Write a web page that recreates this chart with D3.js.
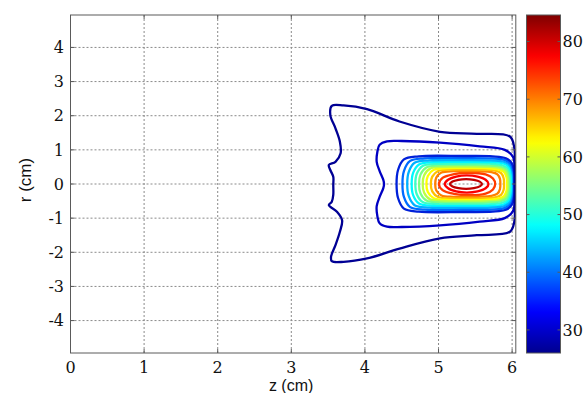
<!DOCTYPE html>
<html>
<head>
<meta charset="utf-8">
<script src="https://cdn.jsdelivr.net/npm/d3@7"></script>
<style>
  html, body { margin: 0; padding: 0; background: #fff; }
  svg { display: block; }
</style>
</head>
<body>
<svg id="chart" width="585" height="393"></svg>
<script>
// ---------------- data ----------------
const zTicks = [0, 1, 2, 3, 4, 5, 6];
const rTicks = [-4, -3, -2, -1, 0, 1, 2, 3, 4];
const colorTicks = [30, 40, 50, 60, 70, 80];
const colorRange = [26.0, 84.6];
const zDomain = [0, 6.05];
const rDomain = [-4.95, 4.95];

// contour levels (outermost first)
const levels = [28.0, 31.6, 35.5, 39.5, 43.5, 47.5, 51.3, 55.0, 58.8, 62.5, 66.2, 70.0, 73.8, 77.5, 81.0];

// outermost contour, full loop of [z, r] points
const contourOuter = [
  [6.035, 0], [6.035, 0.6], [6.03, 1.05], [5.97, 1.39], [5.52, 1.47], [5.02, 1.53],
  [4.47, 1.83], [4.03, 2.19], [3.71, 2.30], [3.55, 2.29], [3.53, 2.02], [3.60, 1.63],
  [3.66, 1.24], [3.67, 0.90], [3.60, 0.65], [3.51, 0.56], [3.53, 0.41], [3.57, 0.21],
  [3.57, -0.03], [3.57, -0.32], [3.55, -0.52], [3.51, -0.62], [3.62, -0.81], [3.69, -1.06],
  [3.66, -1.40], [3.60, -1.79], [3.54, -2.13], [3.55, -2.26], [3.71, -2.28], [4.03, -2.18],
  [4.47, -1.89], [5.02, -1.59], [5.52, -1.50], [5.97, -1.40], [6.03, -1.10], [6.035, -0.6]
];

// other contours: upper halves (right end at r=0 -> left end at r=0), mirrored about r=0
const contourUpper = [
  null,
  [[6.04,0],[6.04,0.4],[6.01,0.8],[5.9,1.0],[5.56,1.1],[5.02,1.21],[4.5,1.26],[4.3,1.25],[4.2,1.15],[4.17,0.95],[4.16,0.65],[4.2,0.38],[4.25,0.12],[4.26,0]],
  [[6.035,0],[6.03,0.33],[5.995,0.615],[5.915,0.755],[5.735,0.81],[5.33,0.82],[4.73,0.81],[4.53,0.72],[4.45,0.41],[4.43,0]],
  [[6.025,0],[6.02,0.3],[5.985,0.57],[5.905,0.7],[5.725,0.75],[5.33,0.76],[4.81,0.75],[4.61,0.67],[4.53,0.38],[4.51,0]],
  [[6.015,0],[6.01,0.28],[5.975,0.525],[5.895,0.645],[5.715,0.69],[5.33,0.70],[4.875,0.69],[4.675,0.62],[4.595,0.35],[4.575,0]],
  [[6.0,0],[5.995,0.26],[5.96,0.49],[5.88,0.6],[5.7,0.645],[5.33,0.65],[4.935,0.64],[4.735,0.57],[4.655,0.325],[4.635,0]],
  [[5.985,0],[5.98,0.24],[5.945,0.45],[5.865,0.55],[5.685,0.595],[5.33,0.60],[4.985,0.59],[4.785,0.53],[4.705,0.30],[4.685,0]],
  [[5.97,0],[5.965,0.22],[5.93,0.41],[5.85,0.505],[5.67,0.545],[5.33,0.55],[5.035,0.545],[4.835,0.485],[4.755,0.275],[4.735,0]],
  [[5.95,0],[5.945,0.2],[5.91,0.38],[5.83,0.47],[5.65,0.505],[5.33,0.51],[5.085,0.505],[4.885,0.45],[4.805,0.255],[4.785,0]],
  [[5.93,0],[5.925,0.19],[5.89,0.35],[5.81,0.43],[5.63,0.465],[5.33,0.47],[5.135,0.465],[4.935,0.415],[4.855,0.235],[4.835,0]],
  [[5.89,0],[5.885,0.17],[5.85,0.32],[5.77,0.395],[5.59,0.425],[5.33,0.43],[5.195,0.425],[4.995,0.38],[4.915,0.215],[4.895,0]],
  [[5.84,0],[5.835,0.15],[5.8,0.285],[5.72,0.35],[5.54,0.375],[5.33,0.38],[5.2,0.375],[5.04,0.335],[4.97,0.19],[4.955,0]],
  [[5.77,0],[5.74,0.16],[5.64,0.28],[5.42,0.33],[5.21,0.29],[5.055,0.18],[5.005,0]],
  [[5.68,0],[5.64,0.125],[5.53,0.215],[5.385,0.25],[5.24,0.215],[5.13,0.125],[5.085,0]],
  [[5.59,0],[5.56,0.07],[5.48,0.12],[5.375,0.14],[5.27,0.12],[5.19,0.07],[5.155,0]]
];

// jet colormap stops
const jetStops = [0, 0.125, 0.375, 0.625, 0.875, 1];
const jetColors = ["#00008f", "#0000ff", "#00ffff", "#ffff00", "#ff0000", "#800000"];

// ---------------- layout ----------------
const plot = { left: 70.5, right: 515.8, top: 15, bottom: 353 };
const cbar = { left: 526.5, right: 560.5 };
const SERIF = "DejaVu Serif";
const SANS = "Liberation Sans";

const svg = d3.select("#chart");
const x = d3.scaleLinear().domain(zDomain).range([plot.left, plot.right]);
const y = d3.scaleLinear().domain(rDomain).range([plot.bottom, plot.top]);
const cy = d3.scaleLinear().domain(colorRange).range([plot.bottom, plot.top]);
const jet = d3.scaleLinear()
  .domain(jetStops.map(t => colorRange[0] + t * (colorRange[1] - colorRange[0])))
  .range(jetColors).interpolate(d3.interpolateRgb).clamp(true);
function lineColor(v) {
  const c = d3.color(jet(v));
  return v < 38 ? c.darker(0.45).formatHex() : c.formatHex();
}

const gridColor = "#8a8a8a";
const axisColor = "#5a5a5a";

const defs = svg.append("defs");
defs.append("clipPath").attr("id", "plotclip")
  .append("rect").attr("x", plot.left).attr("y", plot.top)
  .attr("width", plot.right - plot.left).attr("height", plot.bottom - plot.top);

// grid
const grid = svg.append("g");
grid.selectAll("line.v").data(zTicks.filter(d => d > 0)).join("line")
  .attr("x1", d => x(d)).attr("x2", d => x(d))
  .attr("y1", plot.top).attr("y2", plot.bottom)
  .attr("stroke", gridColor).attr("stroke-width", 1).attr("stroke-dasharray", "2,2");
grid.selectAll("line.h").data(rTicks).join("line")
  .attr("x1", plot.left).attr("x2", plot.right)
  .attr("y1", d => y(d)).attr("y2", d => y(d))
  .attr("stroke", gridColor).attr("stroke-width", 1).attr("stroke-dasharray", "2,2");

// contours
const line = d3.line().x(d => x(d[0])).y(d => y(d[1])).curve(d3.curveCatmullRomClosed.alpha(0.5));
function fullLoop(upper) {
  const lower = upper.slice(1, -1).reverse().map(p => [p[0], -p[1]]);
  return upper.concat(lower);
}
const contourData = levels.map((lv, i) => ({
  level: lv,
  pts: i === 0 ? contourOuter : fullLoop(contourUpper[i])
}));
svg.append("g").attr("clip-path", "url(#plotclip)")
  .selectAll("path").data(contourData.slice().reverse()).join("path")
  .attr("d", d => line(d.pts))
  .attr("fill", "none")
  .attr("stroke", d => lineColor(d.level))
  .attr("stroke-width", 2.3)
  .attr("stroke-linejoin", "round");

// frame
svg.append("rect").attr("x", plot.left).attr("y", plot.top)
  .attr("width", plot.right - plot.left).attr("height", plot.bottom - plot.top)
  .attr("fill", "none").attr("stroke", axisColor).attr("stroke-width", 1);

// ticks (inward, all sides)
const tk = svg.append("g").attr("stroke", axisColor).attr("stroke-width", 1);
zTicks.forEach(d => {
  tk.append("line").attr("x1", x(d)).attr("x2", x(d)).attr("y1", plot.bottom).attr("y2", plot.bottom - 4);
  tk.append("line").attr("x1", x(d)).attr("x2", x(d)).attr("y1", plot.top).attr("y2", plot.top + 4);
});
rTicks.forEach(d => {
  tk.append("line").attr("x1", plot.left).attr("x2", plot.left + 4).attr("y1", y(d)).attr("y2", y(d));
  tk.append("line").attr("x1", plot.right).attr("x2", plot.right - 4).attr("y1", y(d)).attr("y2", y(d));
});

// tick labels
svg.append("g").selectAll("text").data(zTicks).join("text")
  .attr("x", d => x(d)).attr("y", 373)
  .attr("text-anchor", "middle")
  .attr("font-family", SERIF).attr("font-size", 16).attr("fill", "#111")
  .text(d => d);
svg.append("g").selectAll("text").data(rTicks).join("text")
  .attr("x", 64).attr("y", d => y(d))
  .attr("dy", "0.36em")
  .attr("text-anchor", "end")
  .attr("font-family", SERIF).attr("font-size", 16).attr("fill", "#111")
  .text(d => d);

// axis titles
svg.append("text")
  .attr("x", (plot.left + plot.right) / 2 - 2).attr("y", 391)
  .attr("text-anchor", "middle").attr("font-family", SANS).attr("font-size", 16).attr("fill", "#111")
  .text("z (cm)");
svg.append("text")
  .attr("transform", `translate(31,${(plot.top + plot.bottom) / 2 - 4}) rotate(-90)`)
  .attr("text-anchor", "middle").attr("font-family", SANS).attr("font-size", 17).attr("fill", "#111")
  .text("r (cm)");

// colorbar
const grad = defs.append("linearGradient").attr("id", "jetgrad")
  .attr("x1", 0).attr("y1", 1).attr("x2", 0).attr("y2", 0);
d3.range(0, 1.0001, 0.02).forEach(t => {
  grad.append("stop").attr("offset", t)
    .attr("stop-color", jet(colorRange[0] + t * (colorRange[1] - colorRange[0])));
});
svg.append("rect").attr("x", cbar.left).attr("y", plot.top)
  .attr("width", cbar.right - cbar.left).attr("height", plot.bottom - plot.top)
  .attr("fill", "url(#jetgrad)").attr("stroke", axisColor).attr("stroke-width", 1);
const ctk = svg.append("g").attr("stroke", axisColor).attr("stroke-width", 1);
colorTicks.forEach(v => {
  ctk.append("line").attr("x1", cbar.left).attr("x2", cbar.left + 3).attr("y1", cy(v)).attr("y2", cy(v));
  ctk.append("line").attr("x1", cbar.right).attr("x2", cbar.right - 3).attr("y1", cy(v)).attr("y2", cy(v));
});
svg.append("g").selectAll("text").data(colorTicks).join("text")
  .attr("x", cbar.right + 2).attr("y", d => cy(d))
  .attr("dy", "0.36em")
  .attr("font-family", SERIF).attr("font-size", 16).attr("fill", "#111")
  .text(d => d);
</script>
</body>
</html>
